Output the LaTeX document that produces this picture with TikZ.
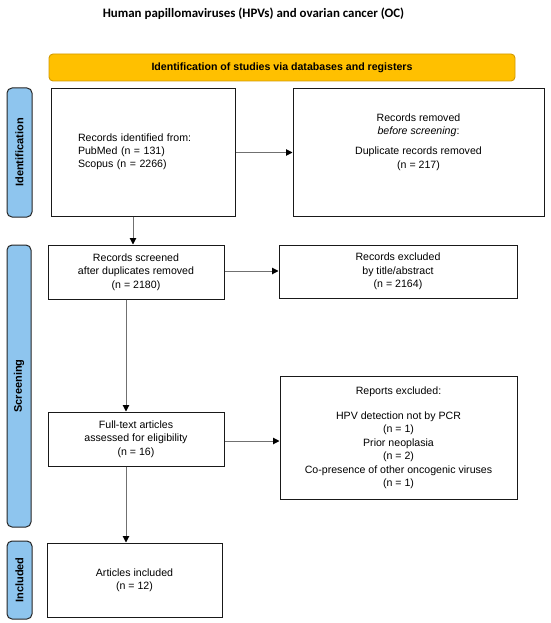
\documentclass[tikz,border=0pt]{standalone}
\usepackage{fontspec}
\setmainfont{Liberation Sans}
\newfontfamily\titlefont{Carlito}
\usetikzlibrary{arrows.meta}
\definecolor{bannerfill}{HTML}{FFC000}
\definecolor{bannerline}{HTML}{D39A00}
\definecolor{sideblue}{HTML}{8EC5EE}
\definecolor{lineg}{HTML}{707070}
\begin{document}
\begin{tikzpicture}[x=1pt,y=-1pt,
  box/.style={draw=black!90, line width=1pt, align=center,
    font=\fontsize{10.6}{13.4}\selectfont, inner sep=2pt},
  side/.style={draw=black!85, fill=sideblue, rounded corners=5pt, line width=1pt,
    font=\bfseries\fontsize{11}{13}\selectfont, rotate=90, inner sep=0pt},
  arr/.style={draw=lineg, line width=1pt,
    -{Triangle[length=6.5pt,width=6.5pt,color=black]}}
]
\useasboundingbox (0,0) rectangle (550,623);
\fill[white] (0,0) rectangle (550,623);

\node[font=\titlefont\bfseries\fontsize{12.9}{14}\selectfont] (title) at (253.5,14)
  {Human papillomaviruses (HPVs) and ovarian cancer (OC)};

\node[draw=bannerline, fill=bannerfill, rounded corners=4pt, line width=0.9pt,
  minimum width=466, minimum height=27, inner sep=0pt,
  font=\bfseries\fontsize{10.6}{13}\selectfont] (banner) at (282,67.5)
  {Identification of studies via databases and registers};

% side labels
\node[side, minimum width=129, minimum height=25] (sid) at (19.5,152.5) {Identification};
\node[side, minimum width=282, minimum height=24] (ssc) at (19,386) {Screening};
\node[side, minimum width=78, minimum height=25] (sin) at (19.5,580) {Included};

% boxes
\node[box, minimum width=184, minimum height=127, align=left, text width=130,
  inner xsep=27pt] (b1) at (143,152.5)
  {\mbox{}\\[-7.4pt]Records identified from:\\PubMed (n = 131)\\Scopus (n = 2266)};
\node[box, minimum width=251, minimum height=127] (b2) at (418.5,152.5)
  {Records removed\\\textit{before screening}:\\[7pt]Duplicate records removed\\(n = 217)\\[10pt]};
\node[box, minimum width=176, minimum height=54] (b3) at (136,272)
  {Records screened\\after duplicates removed\\(n = 2180)};
\node[box, minimum width=238, minimum height=53] (b4) at (398,271.5)
  {Records excluded\\by title/abstract\\(n = 2164)};
\node[box, minimum width=237, minimum height=123] (b5) at (398.5,437.5)
  {Reports excluded:\\[12pt]HPV detection not by PCR\\(n = 1)\\Prior neoplasia\\(n = 2)\\Co-presence of other oncogenic viruses\\(n = 1)};
\node[box, minimum width=176, minimum height=54] (b6) at (136,439)
  {Full-text articles\\assessed for eligibility\\(n = 16)};
\node[box, minimum width=175, minimum height=74] (b7) at (134.5,580)
  {Articles included\\(n = 12)};

% connectors
\coordinate (c1) at (133,0);
\coordinate (c2) at (126,0);
\coordinate (r1) at (0,441);
\coordinate (r2) at (0,271);
\draw[arr] (b1.east) -- (b2.west);
\draw[arr] (b1.south -| c1) -- (b3.north -| c1);
\draw[arr] (b3.east |- r2) -- (b4.west |- r2);
\draw[arr] (b3.south -| c2) -- (b6.north -| c2);
\draw[arr] (b6.east |- r1) -- (b5.west |- r1);
\draw[arr] (b6.south -| c2) -- (b7.north -| c2);
\end{tikzpicture}
\end{document}
